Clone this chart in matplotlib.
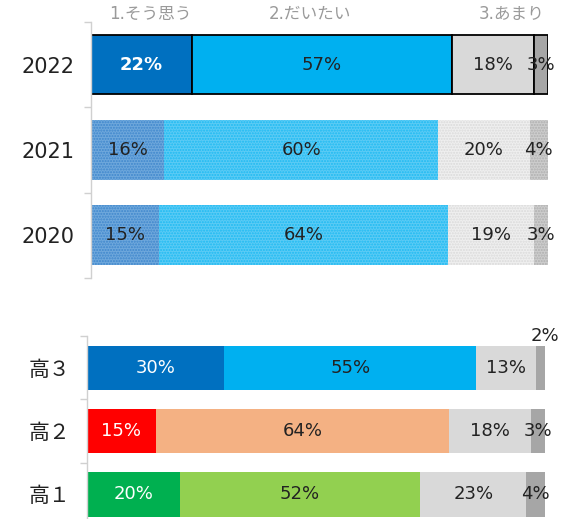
import numpy as np
import matplotlib.pyplot as plt

plt.rcParams['font.family'] = ['DejaVu Sans', 'Noto Sans CJK JP']

# 上段：年度別
years = ["2022", "2021", "2020"]
year_vals = [
    [22, 57, 18, 3],
    [16, 60, 20, 4],
    [15, 64, 19, 3],
]
headers = ["1.そう思う", "2.だいたい", "3.あまり"]
header_x = [13, 48, 92]

# 下段：学年別
grades = ["高３", "高２", "高１"]
grade_vals = [
    [30, 55, 13, 2],
    [15, 64, 18, 3],
    [20, 52, 23, 4],
]

solid_cols = ["#0070C0", "#00B0F0", "#D9D9D9", "#A6A6A6"]
dot_face = ["#6FA8DC", "#5CCBF5", "#EFEFEF", "#CDCDCD"]
dot_hatch = ["#3E86CC", "#1DBAF2", "#DADADA", "#AFAFAF"]
grade_cols = [
    ["#0070C0", "#00B0F0", "#D9D9D9", "#A6A6A6"],
    ["#FF0000", "#F4B183", "#D9D9D9", "#A6A6A6"],
    ["#00B050", "#92D050", "#D9D9D9", "#A6A6A6"],
]

fig = plt.figure(figsize=(5.66, 5.19), dpi=100)
ax1 = fig.add_axes([0.1608, 0.4644, 0.8074, 0.4933])
ax2 = fig.add_axes([0.1537, -0.0135, 0.8092, 0.3661])


def style_axis(ax, labels, pad):
    n = len(labels)
    ax.set_xlim(0, 100)
    ax.set_ylim(n - 0.51, -0.49)
    for s in ["top", "right", "bottom"]:
        ax.spines[s].set_visible(False)
    ax.spines["left"].set_color("#D0D0D0")
    ax.spines["left"].set_linewidth(1)
    ax.set_xticks([])
    ax.set_yticks(range(n))
    ax.set_yticklabels(labels, fontsize=15, color="#222222")
    ax.tick_params(axis="y", which="major", length=0, pad=pad)
    ax.set_yticks(np.arange(n + 1) - 0.5, minor=True)
    ax.tick_params(axis="y", which="minor", length=5, color="#D0D0D0", width=1)


style_axis(ax1, years, 12)
style_axis(ax2, grades, 12)

# 上段
for i, row in enumerate(year_vals):
    tot = sum(row)
    left = 0
    for j, v in enumerate(row):
        w = v / tot * 100
        if i == 0:
            ax1.barh(i, w, left=left, height=0.7, color=solid_cols[j],
                     edgecolor="black", linewidth=1.3)
        else:
            ax1.barh(i, w, left=left, height=0.7, color=dot_face[j],
                     edgecolor=dot_hatch[j], linewidth=0, hatch="......")
        tc = "white" if (j == 0 and i == 0) else "#222222"
        fw = "bold" if (j == 0 and i == 0) else "normal"
        ax1.text(left + w / 2, i, f"{v}%", ha="center", va="center",
                 fontsize=13, color=tc, fontweight=fw)
        left += w

for h, x in zip(headers, header_x):
    ax1.text(x, -0.49, h, ha="center", va="bottom", fontsize=12,
             color="#9A9A9A")

# 下段
for i, row in enumerate(grade_vals):
    tot = sum(row)
    left = 0
    for j, v in enumerate(row):
        w = v / tot * 100
        ax2.barh(i, w, left=left, height=0.7, color=grade_cols[i][j],
                 linewidth=0)
        tc = "white" if j == 0 else "#222222"
        if i == 0 and j == 3:
            ax2.text(left + w / 2 + 1, i - 0.36, f"{v}%", ha="center",
                     va="bottom", fontsize=13, color=tc)
        else:
            ax2.text(left + w / 2, i, f"{v}%", ha="center", va="center",
                     fontsize=13, color=tc)
        left += w

fig.savefig("out.png", dpi=100)
